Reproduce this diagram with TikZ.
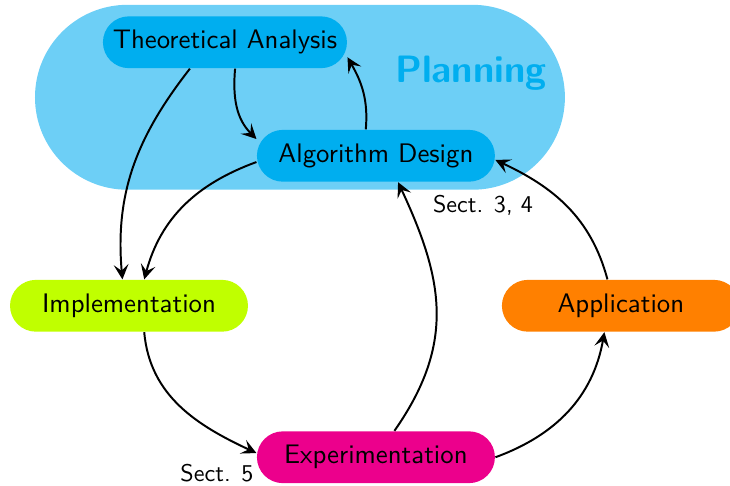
\documentclass[tikz,border=0pt]{standalone}
\usepackage{tikz}
\usetikzlibrary{arrows.meta}
\renewcommand{\familydefault}{\sfdefault}
\definecolor{planbg}{HTML}{6DCFF6}
\definecolor{plancol}{HTML}{00AEEF}
\definecolor{implcol}{HTML}{C0FF00}
\definecolor{appcol}{HTML}{FF8000}
\definecolor{expcol}{HTML}{EC008C}
\tikzset{
  stage/.style = {rectangle, rounded corners=.37cm, minimum width=3.4cm, minimum height=.74cm, inner sep=4pt, font=\fontsize{10.9pt}{13pt}\selectfont},
  sect/.style = {inner sep=1pt, font=\fontsize{9.8pt}{12pt}\selectfont},
  link/.style = {-{Stealth[length=6pt, width=6pt, inset=2.5pt]}, thick}
}
\begin{document}
\begin{tikzpicture}
  \useasboundingbox (0,0) rectangle (10.43,6.94);
  \fill[planbg, rounded corners=1.32cm] (0.5,4.229) rectangle (8.071,6.871);
  \node[text=plancol, font=\fontsize{15.5pt}{18pt}\selectfont\bfseries] (plan) at (6.729,5.9) {Planning};

  \node[stage, fill=plancol, minimum width=3.43cm] (ta) at (3.214,6.336) {Theoretical Analysis};
  \node[stage, fill=plancol] (ad) at (5.371,4.714) {Algorithm Design};
  \node[stage, fill=implcol] (impl) at (1.843,2.571) {Implementation};
  \node[stage, fill=appcol] (app) at (8.871,2.571) {Application};
  \node[stage, fill=expcol] (exp) at (5.371,0.407) {Experimentation};

  \node[sect] (s34) at (6.9,4.0) {Sect. 3, 4};
  \node[sect] (s5) at (3.1,0.186) {Sect. 5};

  \draw[link] (ta.-143) to[out=-128, in=95] (impl.104);
  \draw[link] (ta.-69) to[out=-95, in=135] (ad.172);
  \draw[link] (ad.111) to[out=85, in=-60] (ta.-7);
  \draw[link] (ad.183) to[out=200, in=75] (impl.60);
  \draw[link] (impl.-60) to[out=-85, in=155] (exp.178);
  \draw[link] (exp.55) to[out=55, in=-65, looseness=1.1] (ad.-50);
  \draw[link] (exp.0) to[out=20, in=-100] (app.-122);
  \draw[link] (app.117) to[out=105, in=-25] (ad.-2);
\end{tikzpicture}
\end{document}
